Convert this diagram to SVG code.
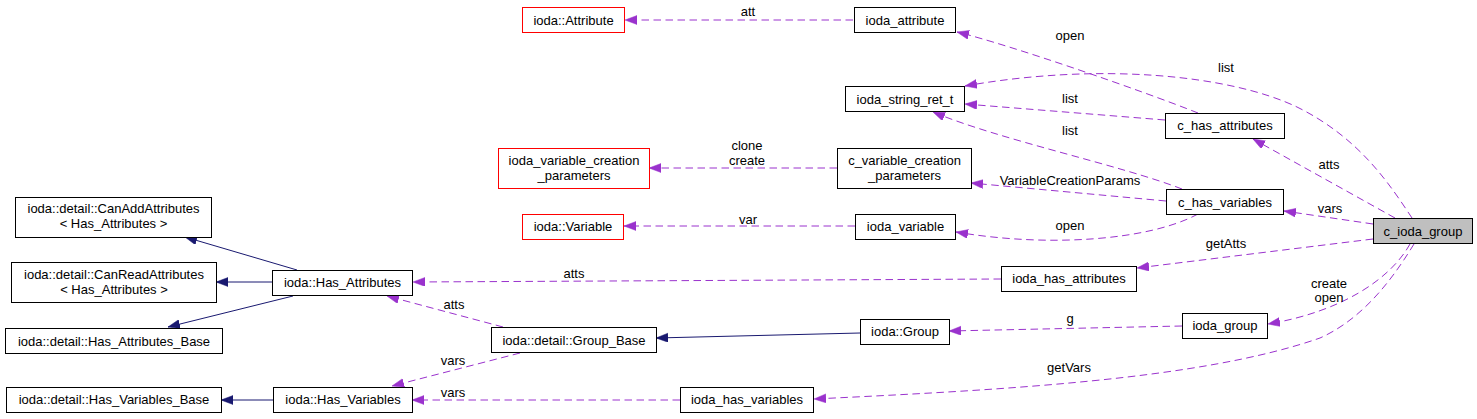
<svg xmlns="http://www.w3.org/2000/svg" width="1477" height="419" viewBox="0 0 1477 419">
<style>
rect.n{fill:#ffffff;stroke:#000000;stroke-width:1}
rect.r{fill:#ffffff;stroke:#ff0000;stroke-width:1}
rect.g{fill:#bfbfbf;stroke:#000000;stroke-width:1}
text{font-family:"Liberation Sans",Arial,sans-serif;font-size:13px;fill:#000000;text-anchor:middle}
path.u{fill:none;stroke:#9a32cd;stroke-width:1;stroke-dasharray:7.5,4.5;marker-end:url(#ap)}
path.i{fill:none;stroke:#191970;stroke-width:1;marker-end:url(#ai)}
</style>
<defs>
<marker id="ap" markerUnits="userSpaceOnUse" markerWidth="13" markerHeight="10" refX="12" refY="4.5" orient="auto" viewBox="0 0 13 10">
<path d="M0,0 L12,4.5 L0,9 z" fill="#9a32cd" stroke="#9a32cd" stroke-width="0.5"/>
</marker>
<marker id="ai" markerUnits="userSpaceOnUse" markerWidth="13" markerHeight="10" refX="12" refY="4.5" orient="auto" viewBox="0 0 13 10">
<path d="M0,0 L12,4.5 L0,9 z" fill="#191970" stroke="#191970" stroke-width="0.5"/>
</marker>
</defs>

<g id="edges">
<path class="u" d="M853,20 L625,20"/>
<text x="748" y="16">att</text>
<path class="u" d="M1198,113 C1140,90 1010,45 957,32"/>
<text x="1070" y="39.5">open</text>
<path class="u" d="M1412,218 C1390,185 1360,138 1297,107 C1230,75 1100,62 965,86"/>
<text x="1226" y="71.5">list</text>
<path class="u" d="M1165,120 L965,104"/>
<text x="1070" y="102.5">list</text>
<path class="u" d="M1182,189 C1120,165 1000,140 933,112"/>
<text x="1070" y="134.5">list</text>
<path class="u" d="M837,168 L649,168"/>
<text x="747" y="149.5">clone</text>
<text x="747" y="164.5">create</text>
<path class="u" d="M1166,201 L971,183"/>
<text x="1070" y="184.5">VariableCreationParams</text>
<path class="u" d="M1198,214 C1150,240 1050,248 956,232"/>
<text x="1070" y="229.5">open</text>
<path class="u" d="M855,226 L624,226"/>
<text x="748" y="223.5">var</text>
<path class="u" d="M1395,218 L1253,139"/>
<text x="1329" y="168.5">atts</text>
<path class="u" d="M1373,224 L1284,211"/>
<text x="1330" y="212.5">vars</text>
<path class="u" d="M1373,239 L1137,268"/>
<text x="1226" y="247.5">getAtts</text>
<path class="u" d="M1410,244 C1390,280 1340,312 1268,324"/>
<text x="1329" y="287.5">create</text>
<text x="1329" y="301.5">open</text>
<path class="u" d="M1414,244 C1395,275 1365,318 1320,338 C1200,380 1000,390 814,399"/>
<text x="1069" y="372">getVars</text>
<path class="u" d="M1001,279 L413,282"/>
<text x="574" y="277.5">atts</text>
<path class="u" d="M1182,326 L949,331"/>
<text x="1070" y="323">g</text>
<path class="i" d="M860,333 L656,338"/>
<path class="u" d="M503,327 L387,296"/>
<text x="454" y="308.5">atts</text>
<path class="u" d="M520,353 L392,386"/>
<text x="453" y="364.5">vars</text>
<path class="u" d="M680,400 L412,400"/>
<text x="453" y="396.5">vars</text>
<path class="i" d="M297,270 L185,237"/>
<path class="i" d="M272,282 L216,282"/>
<path class="i" d="M293,296 L168,327"/>
<path class="i" d="M273,400 L221,400"/>
</g>

<g id="ioda_Attribute"><rect class="r" x="522.5" y="7.5" width="102" height="25"/><text x="573.5" y="24.5">ioda::Attribute</text></g>
<g id="ioda_attribute"><rect class="n" x="854.5" y="7.5" width="101" height="25"/><text x="905" y="24.5">ioda_attribute</text></g>
<g id="ioda_string_ret_t"><rect class="n" x="845.5" y="86.5" width="119" height="25"/><text x="905" y="103.5">ioda_string_ret_t</text></g>
<g id="c_has_attributes"><rect class="n" x="1165.5" y="113.5" width="119" height="25"/><text x="1225" y="130">c_has_attributes</text></g>
<g id="ioda_variable_creation_parameters"><rect class="r" x="498.5" y="148.5" width="151" height="40"/><text x="574" y="164.5">ioda_variable_creation</text><text x="574" y="179.5">_parameters</text></g>
<g id="c_variable_creation_parameters"><rect class="n" x="837.5" y="148.5" width="134" height="40"/><text x="904.5" y="164.5">c_variable_creation</text><text x="904.5" y="179.5">_parameters</text></g>
<g id="c_has_variables"><rect class="n" x="1166.5" y="189.5" width="117" height="25"/><text x="1225" y="206.5">c_has_variables</text></g>
<g id="ioda_Variable"><rect class="r" x="522.5" y="214.5" width="101" height="25"/><text x="573" y="231">ioda::Variable</text></g>
<g id="ioda_variable"><rect class="n" x="855.5" y="214.5" width="100" height="25"/><text x="905.5" y="231">ioda_variable</text></g>
<g id="c_ioda_group"><rect class="g" x="1373.5" y="218.5" width="99" height="25"/><text x="1423" y="235.5">c_ioda_group</text></g>
<g id="CanAddAttributes"><rect class="n" x="15.5" y="197.5" width="196" height="40"/><text x="113.5" y="213">ioda::detail::CanAddAttributes</text><text x="113.5" y="228">&lt; Has_Attributes &gt;</text></g>
<g id="CanReadAttributes"><rect class="n" x="11.5" y="262.5" width="205" height="40"/><text x="114" y="278.5">ioda::detail::CanReadAttributes</text><text x="114" y="293.5">&lt; Has_Attributes &gt;</text></g>
<g id="Has_Attributes"><rect class="n" x="272.5" y="270.5" width="140" height="25"/><text x="342.5" y="287">ioda::Has_Attributes</text></g>
<g id="ioda_has_attributes"><rect class="n" x="1001.5" y="266.5" width="135" height="25"/><text x="1069" y="283">ioda_has_attributes</text></g>
<g id="Has_Attributes_Base"><rect class="n" x="5.5" y="328.5" width="217" height="25"/><text x="114" y="345.5">ioda::detail::Has_Attributes_Base</text></g>
<g id="Group_Base"><rect class="n" x="491.5" y="327.5" width="165" height="25"/><text x="574" y="344.5">ioda::detail::Group_Base</text></g>
<g id="ioda_Group"><rect class="n" x="860.5" y="319.5" width="89" height="25"/><text x="905" y="336">ioda::Group</text></g>
<g id="ioda_group"><rect class="n" x="1182.5" y="313.5" width="85" height="25"/><text x="1225" y="330">ioda_group</text></g>
<g id="Has_Variables_Base"><rect class="n" x="6.5" y="387.5" width="215" height="25"/><text x="114" y="404">ioda::detail::Has_Variables_Base</text></g>
<g id="Has_Variables"><rect class="n" x="273.5" y="387.5" width="139" height="25"/><text x="343" y="404">ioda::Has_Variables</text></g>
<g id="ioda_has_variables"><rect class="n" x="680.5" y="387.5" width="133" height="25"/><text x="747" y="404">ioda_has_variables</text></g>
</svg>
